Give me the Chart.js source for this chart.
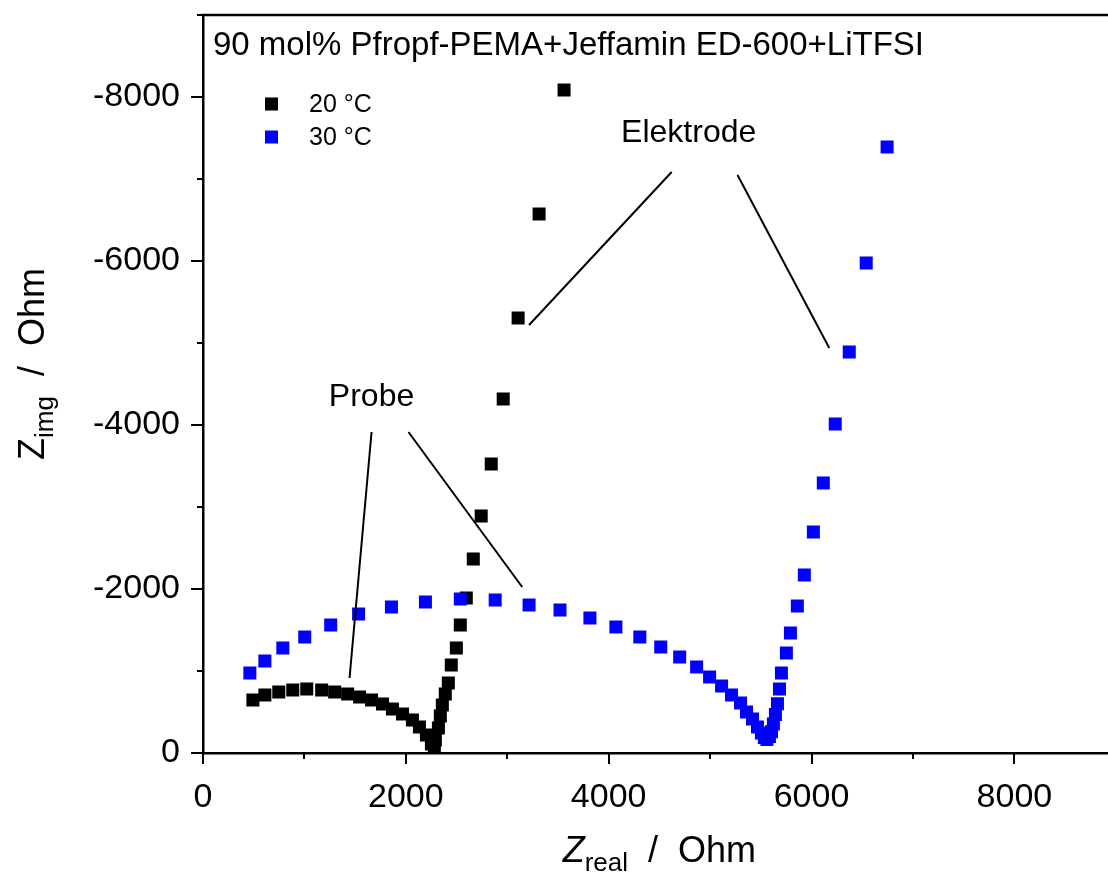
<!DOCTYPE html>
<html>
<head>
<meta charset="utf-8">
<script src="https://cdn.jsdelivr.net/npm/chart.js@4.4.0/dist/chart.umd.min.js"></script>
<style>
html,body{margin:0;padding:0;background:#fff;overflow:hidden;}
#wrap{width:1125px;height:873px;}
</style>
</head>
<body>
<div id="wrap"><canvas id="nyquist" width="1125" height="873"></canvas></div>
<script>
// 20 °C
const zReal20 = [492, 610, 747, 885, 1023, 1170, 1298, 1426, 1544, 1662, 1770, 1868, 1967, 2065, 2134, 2203, 2252, 2281,
  2291, 2321, 2340, 2360, 2389, 2419, 2448, 2498, 2537, 2596, 2665, 2743, 2842, 2960, 3107, 3314, 3560];
const zImg20 = [-646, -707, -744, -768, -780, -768, -744, -720, -683, -646, -598, -537, -476, -402, -317, -220, -110, -25,
  -159, -305, -451, -585, -720, -854, -1073, -1280, -1561, -1890, -2366, -2890, -3524, -4317, -5305, -6573, -8085];
// 30 °C
const zReal30 = [462, 610, 787, 1003, 1259, 1534, 1858, 2193, 2537, 2881, 3215, 3520, 3815, 4071, 4307, 4513, 4700, 4867,
  4995, 5113, 5211, 5300, 5359, 5418, 5467, 5506, 5535, 5560, 5585, 5605, 5624, 5644, 5664, 5684, 5703, 5752, 5792,
  5860, 5929, 6018, 6116, 6234, 6372, 6539, 6745];
const zImg30 = [-976, -1122, -1280, -1415, -1561, -1695, -1780, -1841, -1878, -1866, -1805, -1744, -1646, -1537, -1415,
  -1293, -1171, -1049, -927, -817, -707, -610, -500, -415, -317, -244, -190, -165, -200, -260, -354, -470, -600, -780,
  -976, -1220, -1463, -1793, -2171, -2695, -3293, -4012, -4890, -5976, -7390];

const seriesNames = ['20 °C', '30 °C'];
const seriesColors = ['#000000', '#0000ff'];
const xTicks = [0, 1000, 2000, 3000, 4000, 5000, 6000, 7000, 8000, 9000];
const yTicks = [0, -1000, -2000, -3000, -4000, -5000, -6000, -7000, -8000, -9000];
const plotTitle = '90 mol% Pfropf-PEMA+Jeffamin ED-600+LiTFSI';

// annotation labels and their leader lines (data coordinates)
const notes = [
  {text: 'Probe', at: [1662, -4341], lines: [[[1662, -3915], [1445, -915]], [[2026, -3915], [3147, -2024]]]},
  {text: 'Elektrode', at: [4789, -7561], lines: [[[4621, -7085], [3215, -5220]], [[5270, -7049], [6175, -4939]]]}
];

const FONT = '"Liberation Sans", Arial, sans-serif';

function toPoints(xs, ys) {
  return xs.map((v, i) => ({x: v, y: ys[i]}));
}

const decor = {
  id: 'decor',
  afterDraw(chart) {
    const ctx = chart.ctx;
    const a = chart.chartArea;
    const x = chart.scales.x, y = chart.scales.y;
    ctx.save();
    ctx.strokeStyle = '#000';
    ctx.fillStyle = '#000';
    ctx.lineCap = 'butt';

    // top frame
    ctx.lineWidth = 2.5;
    ctx.beginPath();
    ctx.moveTo(a.left - 1.25, a.top);
    ctx.lineTo(a.right + 5, a.top);
    ctx.stroke();

    // tick marks (outward)
    ctx.lineWidth = 2;
    xTicks.forEach(v => {
      const px = Math.round(x.getPixelForValue(v));
      const len = v % 2000 === 0 ? 11 : 6;
      ctx.beginPath();
      ctx.moveTo(px, a.bottom);
      ctx.lineTo(px, a.bottom + len);
      ctx.stroke();
    });
    yTicks.forEach(v => {
      const py = Math.round(y.getPixelForValue(v));
      const len = v % 2000 === 0 ? 12 : 6;
      ctx.beginPath();
      ctx.moveTo(a.left, py);
      ctx.lineTo(a.left - len, py);
      ctx.stroke();
    });

    // plot title
    ctx.font = '33px ' + FONT;
    ctx.textBaseline = 'alphabetic';
    ctx.textAlign = 'left';
    ctx.fillText(plotTitle, 213, 55);

    // legend
    ctx.font = '25px ' + FONT;
    ctx.textBaseline = 'middle';
    seriesNames.forEach((name, i) => {
      const cy = 104 + i * 33;
      ctx.fillStyle = seriesColors[i];
      ctx.fillRect(265, cy - 6.5, 13, 13);
      ctx.fillStyle = '#000';
      ctx.fillText(name, 309, cy + 1);
    });

    // annotations
    ctx.font = '32px ' + FONT;
    ctx.textAlign = 'center';
    ctx.lineWidth = 2;
    notes.forEach(n => {
      ctx.fillText(n.text, x.getPixelForValue(n.at[0]), y.getPixelForValue(n.at[1]));
      n.lines.forEach(l => {
        ctx.beginPath();
        ctx.moveTo(x.getPixelForValue(l[0][0]), y.getPixelForValue(l[0][1]));
        ctx.lineTo(x.getPixelForValue(l[1][0]), y.getPixelForValue(l[1][1]));
        ctx.stroke();
      });
    });

    // axis titles with subscripts
    function title(main, sub, rest, italic) {
      const f1 = (italic ? 'italic ' : '') + '36px ' + FONT;
      const f2 = '26px ' + FONT;
      const f3 = '36px ' + FONT;
      ctx.font = f1; const w1 = ctx.measureText(main).width;
      ctx.font = f2; const w2 = ctx.measureText(sub).width;
      ctx.font = f3; const w3 = ctx.measureText(rest).width;
      return {w: w1 + w2 + w3, draw(x0, base) {
        ctx.textAlign = 'left';
        ctx.textBaseline = 'alphabetic';
        ctx.font = f1; ctx.fillText(main, x0, base);
        ctx.font = f2; ctx.fillText(sub, x0 + w1, base + 9);
        ctx.font = f3; ctx.fillText(rest, x0 + w1 + w2, base);
      }};
    }
    ctx.fillStyle = '#000';
    const tx = title('Z', 'real', '  /  Ohm', true);
    tx.draw((a.left + a.right) / 2 - tx.w / 2, 862);

    const ty = title('Z', 'img', '  /  Ohm', false);
    ctx.save();
    ctx.translate(44, 364);
    ctx.rotate(-Math.PI / 2);
    ty.draw(-ty.w / 2, 0);
    ctx.restore();

    ctx.restore();
  }
};

new Chart(document.getElementById('nyquist'), {
  type: 'scatter',
  data: {
    datasets: [
      {label: seriesNames[0], data: toPoints(zReal20, zImg20), backgroundColor: seriesColors[0], borderColor: seriesColors[0],
        pointStyle: 'rect', pointRadius: 9.2, pointBorderWidth: 0, order: 1},
      {label: seriesNames[1], data: toPoints(zReal30, zImg30), backgroundColor: seriesColors[1], borderColor: seriesColors[1],
        pointStyle: 'rect', pointRadius: 9.2, pointBorderWidth: 0, order: 0}
    ]
  },
  options: {
    responsive: false,
    animation: false,
    devicePixelRatio: 1,
    layout: {padding: {top: 15, right: 7, left: 0, bottom: 0}},
    plugins: {legend: {display: false}, tooltip: {enabled: false}},
    scales: {
      x: {
        type: 'linear', min: 0, max: 9000,
        afterBuildTicks: s => { s.ticks = xTicks.map(v => ({value: v})); },
        afterFit: s => { s.height = 120; s.paddingLeft = 0; s.paddingRight = 0; },
        grid: {display: false},
        border: {display: true, color: '#000', width: 2.5},
        ticks: {
          padding: 16, color: '#000', font: {family: FONT, size: 34},
          autoSkip: false, maxRotation: 0,
          callback: v => (v % 2000 === 0 && v < 9000) ? String(v) : ''
        }
      },
      y: {
        type: 'linear', min: -9000, max: 0, reverse: true,
        afterBuildTicks: s => { s.ticks = yTicks.map(v => ({value: v})); },
        afterFit: s => { s.width = 203; s.paddingTop = 0; s.paddingBottom = 0; },
        grid: {display: false},
        border: {display: true, color: '#000', width: 2.5},
        ticks: {
          padding: 15, color: '#000', font: {family: FONT, size: 34},
          autoSkip: false,
          callback: v => (v % 2000 === 0) ? String(v) : ''
        }
      }
    }
  },
  plugins: [decor]
});
</script>
</body>
</html>
